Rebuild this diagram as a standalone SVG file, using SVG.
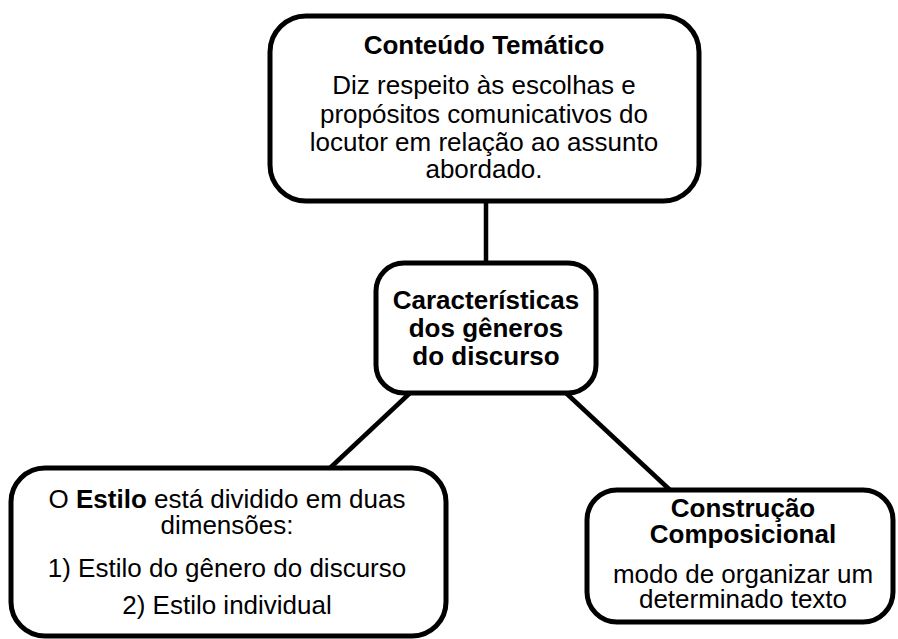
<svg xmlns="http://www.w3.org/2000/svg" width="898" height="639" viewBox="0 0 898 639">
<style>
.box{fill:#fff;stroke:#000;stroke-width:5}
.ln{stroke:#000;stroke-width:4.5;fill:none}
text{font-family:"Liberation Sans",Arial,sans-serif;font-size:26px;fill:#000;text-anchor:middle}
.b{font-weight:bold}
</style>
<rect width="898" height="639" fill="#fff"/>
<g id="connectors">
<line class="ln" x1="486" y1="200" x2="486" y2="264"/>
<line class="ln" x1="410" y1="393" x2="330" y2="468"/>
<line class="ln" x1="566" y1="393" x2="670" y2="490"/>
</g>
<g id="conteudo">
<rect class="box" x="270" y="16" width="429" height="185" rx="36"/>
<text class="b" x="484" y="54">Conteúdo Temático</text>
<text x="484" y="94">Diz respeito às escolhas e</text>
<text x="484" y="123">propósitos comunicativos do</text>
<text x="484" y="151">locutor em relação ao assunto</text>
<text x="484" y="178">abordado.</text>
</g>
<g id="caracteristicas">
<rect class="box" x="376" y="263" width="220" height="130" rx="28"/>
<text class="b" x="486" y="309">Características</text>
<text class="b" x="486" y="337">dos gêneros</text>
<text class="b" x="486" y="365">do discurso</text>
</g>
<g id="estilo">
<rect class="box" x="11" y="468" width="435" height="168" rx="34"/>
<text x="227" y="508">O <tspan class="b">Estilo</tspan> está dividido em duas</text>
<text x="227" y="534">dimensões:</text>
<text x="227" y="577">1) Estilo do gênero do discurso</text>
<text x="227" y="614">2) Estilo individual</text>
</g>
<g id="construcao">
<rect class="box" x="587" y="490" width="306" height="132" rx="30"/>
<text class="b" x="743" y="517">Construção</text>
<text class="b" x="743" y="543">Composicional</text>
<text x="743" y="583">modo de organizar um</text>
<text x="743" y="608">determinado texto</text>
</g>
</svg>
